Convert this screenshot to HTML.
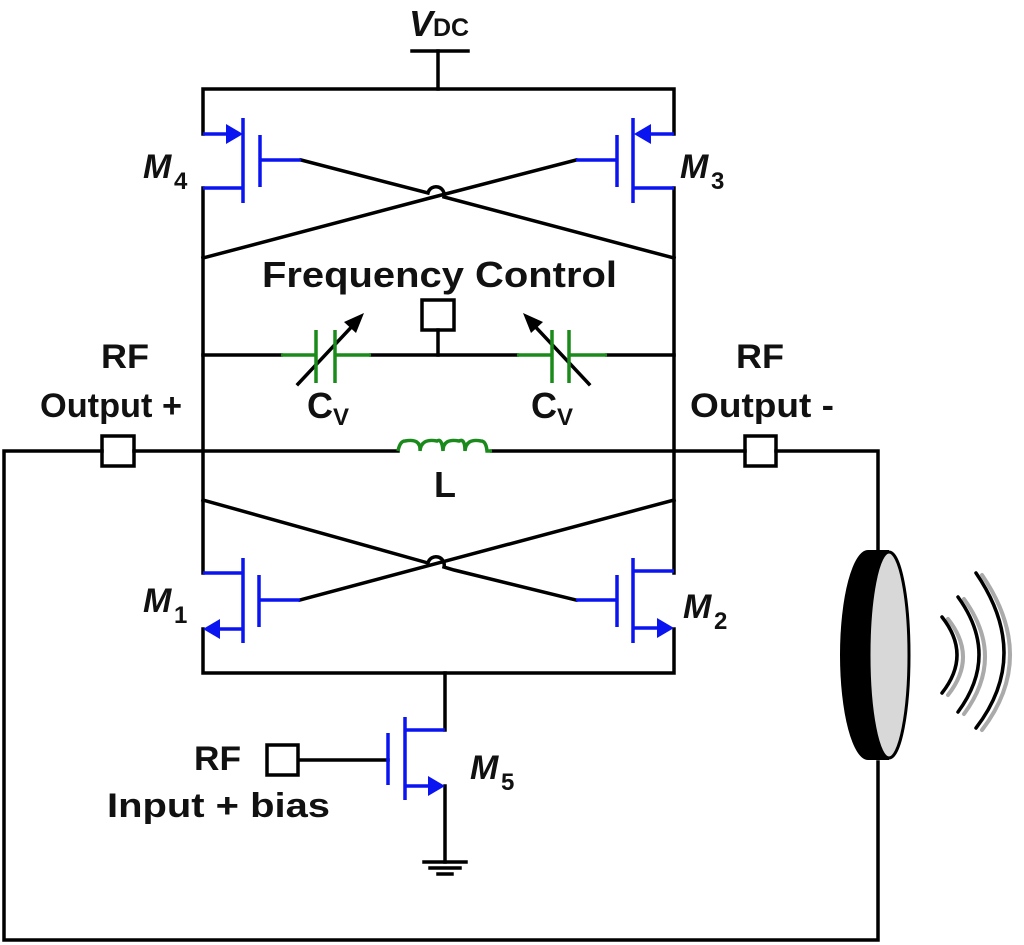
<!DOCTYPE html>
<html><head><meta charset="utf-8"><style>
html,body{margin:0;padding:0;background:#fff;}
svg{display:block;}
text{font-family:"Liberation Sans",Arial,sans-serif;font-weight:bold;fill:#111;}
</style></head><body>
<svg width="1024" height="945" viewBox="0 0 1024 945" xmlns="http://www.w3.org/2000/svg">
<g fill="none" stroke="#000" stroke-width="3.5" stroke-linecap="square">
<line x1="412" y1="51" x2="468" y2="51"/>
<line x1="438" y1="51" x2="438" y2="89"/>
<polyline points="203,134 203,89 674,89 674,134"/>
<line x1="203" y1="188" x2="203" y2="573"/>
<line x1="674" y1="188" x2="674" y2="573"/>
<polyline points="203,629 203,673 674,673 674,629"/>
<path d="M301,160 L428,193 A8,8 0 0 1 444,197 L674,258"/>
<path d="M576,160 L430,198 L203,258"/>
<path d="M203,500 L428,563 A8,8 0 0 1 444,567 L454,570 L576,600"/>
<path d="M674,500 L300,600"/>
<line x1="203" y1="355" x2="281" y2="355"/>
<line x1="371" y1="355" x2="517" y2="355"/>
<line x1="607" y1="355" x2="674" y2="355"/>
<line x1="438" y1="330" x2="438" y2="355"/>
<rect x="422" y="300" width="32" height="30"/>
<polyline points="398,451 134,451"/>
<polyline points="102,451 4,451 4,940 878,940 878,762"/>
<line x1="492" y1="451" x2="745" y2="451"/>
<polyline points="776,451 878,451 878,550"/>
<rect x="102" y="436" width="32" height="30"/>
<rect x="745" y="436" width="31" height="30"/>
<line x1="445" y1="673" x2="445" y2="730"/>
<line x1="445" y1="786" x2="445" y2="862"/>
<line x1="299" y1="760" x2="388" y2="760"/>
<rect x="267" y="745" width="31" height="30"/>
<line x1="424" y1="862" x2="466" y2="862"/>
<line x1="430" y1="868" x2="460" y2="868"/>
<line x1="438" y1="874" x2="452" y2="874"/>
<line x1="298" y1="384" x2="358" y2="320"/>
<line x1="589" y1="384" x2="529" y2="320"/>
</g>
<g fill="#000">
<polygon points="364,313 344,322 356,333"/>
<polygon points="523,313 543,322 531,333"/>
</g>
<g stroke="#1a8a1a" stroke-width="3.5" fill="none">
<line x1="281" y1="355" x2="316" y2="355"/><line x1="335" y1="355" x2="371" y2="355"/>
<line x1="316" y1="330" x2="316" y2="383"/><line x1="335" y1="330" x2="335" y2="383"/>
<line x1="517" y1="355" x2="552" y2="355"/><line x1="569" y1="355" x2="607" y2="355"/>
<line x1="552" y1="330" x2="552" y2="383"/><line x1="569" y1="330" x2="569" y2="383"/>
<path d="M398,451 Q400,441 405,441 Q421,438 420,451 Q421,438 437,441 Q442,438 443,451 Q443,438 459,441 Q465,438 465,451 Q466,438 481,441 Q486,441 487,451 L492,451"/>
</g>
<g stroke="#0a14f0" stroke-width="3.5" fill="none">
<line x1="203" y1="134" x2="232" y2="134"/><line x1="243" y1="118" x2="243" y2="203"/>
<line x1="260" y1="135" x2="260" y2="187"/><line x1="260" y1="160" x2="301" y2="160"/>
<line x1="203" y1="188" x2="243" y2="188"/>
<line x1="674" y1="134" x2="645" y2="134"/><line x1="633" y1="118" x2="633" y2="203"/>
<line x1="617" y1="135" x2="617" y2="187"/><line x1="617" y1="160" x2="576" y2="160"/>
<line x1="674" y1="188" x2="633" y2="188"/>
<line x1="203" y1="573" x2="243" y2="573"/><line x1="243" y1="558" x2="243" y2="643"/>
<line x1="259" y1="575" x2="259" y2="627"/><line x1="259" y1="600" x2="300" y2="600"/>
<line x1="214" y1="629" x2="243" y2="629"/>
<line x1="674" y1="571" x2="633" y2="571"/><line x1="633" y1="558" x2="633" y2="643"/>
<line x1="617" y1="575" x2="617" y2="627"/><line x1="617" y1="600" x2="576" y2="600"/>
<line x1="663" y1="628" x2="633" y2="628"/>
<line x1="445" y1="730" x2="406" y2="730"/><line x1="405" y1="717" x2="405" y2="800"/>
<line x1="388" y1="733" x2="388" y2="785"/>
<line x1="406" y1="786" x2="433" y2="786"/>
</g>
<g fill="#0a14f0">
<polygon points="243,134 226,124 226,144"/>
<polygon points="634,134 651,124 651,144"/>
<polygon points="203,629 220,619 220,639"/>
<polygon points="674,628 657,618 657,638"/>
<polygon points="445,786 428,776 428,796"/>
</g>
<ellipse cx="868" cy="655" rx="28" ry="105" fill="#000"/>
<rect x="868" y="550" width="21" height="210" fill="#000"/>
<ellipse cx="889" cy="655" rx="20" ry="103" fill="#d8d8d8" stroke="#000" stroke-width="3"/>
<g fill="none" stroke-linecap="round">
<path d="M945,617 Q975,655 945,693" stroke="#aaa" stroke-width="4" transform="translate(3,2)"/>
<path d="M961,597 Q1003,655 961,712" stroke="#aaa" stroke-width="4" transform="translate(3,2)"/>
<path d="M979,573 Q1035,655 979,728" stroke="#aaa" stroke-width="4" transform="translate(3,2)"/>
<path d="M942,617 Q972,655 942,693" stroke="#000" stroke-width="3.5"/>
<path d="M958,597 Q1000,655 958,712" stroke="#000" stroke-width="3.5"/>
<path d="M976,573 Q1032,655 976,728" stroke="#000" stroke-width="3.5"/>
</g>
<text x="409" y="36" font-size="36" font-style="italic">V</text><text x="433" y="36" font-size="25">DC</text>
<text x="143" y="178" font-size="34" font-style="italic">M</text><text x="174" y="189" font-size="24">4</text>
<text x="680" y="178" font-size="34" font-style="italic">M</text><text x="711" y="189" font-size="24">3</text>
<text x="143" y="612" font-size="34" font-style="italic">M</text><text x="174" y="623" font-size="24">1</text>
<text x="683" y="618" font-size="34" font-style="italic">M</text><text x="714" y="629" font-size="24">2</text>
<text x="470" y="779" font-size="34" font-style="italic">M</text><text x="501" y="790" font-size="24">5</text>
<text x="262" y="287" font-size="36" textLength="355" lengthAdjust="spacingAndGlyphs">Frequency Control</text>
<text x="307" y="418" font-size="36">C</text><text x="333" y="425" font-size="24">V</text>
<text x="531" y="418" font-size="36">C</text><text x="557" y="425" font-size="24">V</text>
<text x="445" y="497" font-size="36" text-anchor="middle">L</text>
<text x="101" y="368" font-size="34" textLength="48" lengthAdjust="spacingAndGlyphs">RF</text>
<text x="40" y="417" font-size="34" textLength="142" lengthAdjust="spacingAndGlyphs">Output +</text>
<text x="736" y="368" font-size="34" textLength="48" lengthAdjust="spacingAndGlyphs">RF</text>
<text x="690" y="417" font-size="34" textLength="144" lengthAdjust="spacingAndGlyphs">Output -</text>
<text x="194" y="770" font-size="34" textLength="47" lengthAdjust="spacingAndGlyphs">RF</text>
<text x="107" y="817" font-size="34" textLength="223" lengthAdjust="spacingAndGlyphs">Input + bias</text>
</svg>
</body></html>
